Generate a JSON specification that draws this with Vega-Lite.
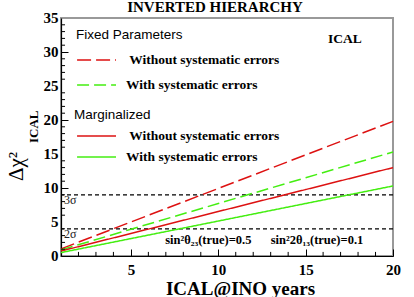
{
  "$schema": "https://vega.github.io/schema/vega-lite/v6.json",
  "width": 332,
  "height": 238,
  "autosize": {"type": "none"},
  "padding": {"left": 61, "top": 18, "right": 21, "bottom": 41},
  "background": "white",
  "config": {
    "view": {"stroke": "#999999", "strokeWidth": 2},
    "axis": {"labelOverlap": false, "labelFlush": false, "grid": false,
      "tickSize": -7, "tickColor": "black", "tickWidth": 1, "domainColor": "black", "domainWidth": 1.2,
      "labelFont": "Liberation Serif", "labelFontWeight": "bold", "labelFontSize": 15, "labelColor": "black"}
  },
  "title": {"text": "INVERTED HIERARCHY", "font": "Liberation Serif", "fontSize": 15, "fontWeight": "bold", "color": "black", "anchor": "middle", "frame": "group", "dx": -12, "offset": -4},
  "layer": [
    {
      "data": {"values": [{"y": 9}, {"y": 4}]},
      "mark": {"type": "rule", "color": "black", "strokeDash": [4, 3], "strokeWidth": 1.2},
      "encoding": {
        "y": {"field": "y", "type": "quantitative", "scale": {"domain": [0, 35], "nice": false, "zero": false},
          "axis": {
            "values": [0, 5, 10, 15, 20, 25, 30, 35],
            "labels": false,
            "title": "Δχ²", "titleFont": "Liberation Serif", "titleFontSize": 21, "titleFontWeight": "normal", "titleColor": "black",
            "titleAngle": 270, "titleX": -39, "titleY": 148, "titleAlign": "center", "titleBaseline": "alphabetic"
          }
        }
      }
    },
    {
      "data": {"values": [
        {"series": "fixed_nosys", "years": 1, "dchi2": 1.05},
        {"series": "fixed_nosys", "years": 5, "dchi2": 5.0},
        {"series": "fixed_nosys", "years": 10, "dchi2": 9.93},
        {"series": "fixed_nosys", "years": 15, "dchi2": 14.87},
        {"series": "fixed_nosys", "years": 20, "dchi2": 19.8},
        {"series": "fixed_sys", "years": 1, "dchi2": 0.9},
        {"series": "fixed_sys", "years": 5, "dchi2": 3.93},
        {"series": "fixed_sys", "years": 10, "dchi2": 7.72},
        {"series": "fixed_sys", "years": 15, "dchi2": 11.51},
        {"series": "fixed_sys", "years": 20, "dchi2": 15.3},
        {"series": "marg_nosys", "years": 1, "dchi2": 0.73},
        {"series": "marg_nosys", "years": 5, "dchi2": 3.31},
        {"series": "marg_nosys", "years": 10, "dchi2": 6.54},
        {"series": "marg_nosys", "years": 15, "dchi2": 9.77},
        {"series": "marg_nosys", "years": 20, "dchi2": 13.0},
        {"series": "marg_sys", "years": 1, "dchi2": 0.5},
        {"series": "marg_sys", "years": 5, "dchi2": 2.56},
        {"series": "marg_sys", "years": 10, "dchi2": 5.14},
        {"series": "marg_sys", "years": 15, "dchi2": 7.72},
        {"series": "marg_sys", "years": 20, "dchi2": 10.3}
      ]},
      "mark": {"type": "line", "strokeWidth": 1.5},
      "encoding": {
        "x": {"field": "years", "type": "quantitative", "scale": {"domain": [1, 20], "nice": false, "zero": false},
          "axis": {
            "values": [5, 10, 15, 20],
            "labelPadding": 13,
            "title": "ICAL@INO years", "titleFont": "Liberation Serif", "titleFontSize": 19, "titleFontWeight": "bold", "titleColor": "black",
            "titleX": 179, "titleAlign": "center", "titlePadding": 2
          }
        },
        "y": {"field": "dchi2", "type": "quantitative", "scale": {"domain": [0, 35], "nice": false, "zero": false}},
        "color": {"field": "series", "type": "nominal", "legend": null,
          "scale": {"domain": ["fixed_nosys", "fixed_sys", "marg_nosys", "marg_sys"], "range": ["#dd1111", "#44ee11", "#dd1111", "#44ee11"]}},
        "strokeDash": {"field": "series", "type": "nominal", "legend": null,
          "scale": {"domain": ["fixed_nosys", "fixed_sys", "marg_nosys", "marg_sys"], "range": [[14, 5], [12, 5], [1, 0], [1, 0]]}}
      }
    },
    {
      "data": {"values": [
        {"series": "fixed_nosys", "x": 1.92, "y": 28.82},
        {"series": "fixed_nosys", "x": 4.15, "y": 28.82},
        {"series": "fixed_sys", "x": 1.92, "y": 25.15},
        {"series": "fixed_sys", "x": 4.15, "y": 25.15},
        {"series": "marg_nosys", "x": 1.92, "y": 17.65},
        {"series": "marg_nosys", "x": 4.15, "y": 17.65},
        {"series": "marg_sys", "x": 1.92, "y": 14.56},
        {"series": "marg_sys", "x": 4.15, "y": 14.56}
      ]},
      "mark": {"type": "line", "strokeWidth": 1.5},
      "encoding": {
        "x": {"field": "x", "type": "quantitative", "scale": {"domain": [1, 20], "nice": false, "zero": false}},
        "y": {"field": "y", "type": "quantitative", "scale": {"domain": [0, 35], "nice": false, "zero": false}},
        "color": {"field": "series", "type": "nominal", "legend": null},
        "strokeDash": {"field": "series", "type": "nominal", "legend": null}
      }
    },
    {
      "data": {"values": [
        {"xt": 2}, {"xt": 3}, {"xt": 4}, {"xt": 6}, {"xt": 7}, {"xt": 8}, {"xt": 9},
        {"xt": 11}, {"xt": 12}, {"xt": 13}, {"xt": 14}, {"xt": 16}, {"xt": 17}, {"xt": 18}, {"xt": 19}
      ]},
      "mark": {"type": "rule", "color": "black", "strokeWidth": 1},
      "encoding": {
        "x": {"field": "xt", "type": "quantitative", "scale": {"domain": [1, 20], "nice": false, "zero": false}},
        "y": {"datum": 0, "type": "quantitative", "scale": {"domain": [0, 35], "nice": false, "zero": false}},
        "y2": {"datum": 0.6}
      }
    },
    {
      "data": {"values": [
        {"yt": 1}, {"yt": 2}, {"yt": 3}, {"yt": 4}, {"yt": 6}, {"yt": 7}, {"yt": 8}, {"yt": 9},
        {"yt": 11}, {"yt": 12}, {"yt": 13}, {"yt": 14}, {"yt": 16}, {"yt": 17}, {"yt": 18}, {"yt": 19},
        {"yt": 21}, {"yt": 22}, {"yt": 23}, {"yt": 24}, {"yt": 26}, {"yt": 27}, {"yt": 28}, {"yt": 29},
        {"yt": 31}, {"yt": 32}, {"yt": 33}, {"yt": 34}
      ]},
      "mark": {"type": "rule", "color": "black", "strokeWidth": 1},
      "encoding": {
        "y": {"field": "yt", "type": "quantitative", "scale": {"domain": [0, 35], "nice": false, "zero": false}},
        "x": {"datum": 1, "type": "quantitative", "scale": {"domain": [1, 20], "nice": false, "zero": false}},
        "x2": {"datum": 1.23}
      }
    },
    {
      "data": {"values": [
        {"tick": 0}, {"tick": 5}, {"tick": 10}, {"tick": 15}, {"tick": 20}, {"tick": 25}, {"tick": 30}, {"tick": 35}
      ]},
      "mark": {"type": "text", "font": "Liberation Serif", "fontSize": 15, "fontWeight": "bold", "align": "right", "baseline": "middle", "dx": -2.5, "color": "black"},
      "encoding": {
        "y": {"field": "tick", "type": "quantitative", "scale": {"domain": [0, 35], "nice": false, "zero": false}},
        "x": {"datum": 1, "type": "quantitative", "scale": {"domain": [1, 20], "nice": false, "zero": false}},
        "text": {"field": "tick", "type": "quantitative"}
      }
    },
    {
      "data": {"values": [
        {"x": 1.86, "y": 32.5, "text": "Fixed Parameters"},
        {"x": 1.74, "y": 20.7, "text": "Marginalized"}
      ]},
      "mark": {"type": "text", "font": "Liberation Sans", "fontSize": 13.5, "align": "left", "baseline": "middle", "color": "black"},
      "encoding": {
        "x": {"field": "x", "type": "quantitative", "scale": {"domain": [1, 20], "nice": false, "zero": false}},
        "y": {"field": "y", "type": "quantitative", "scale": {"domain": [0, 35], "nice": false, "zero": false}},
        "text": {"field": "text"}
      }
    },
    {
      "data": {"values": [
        {"x": 4.9, "y": 28.82, "text": "Without systematic errors"},
        {"x": 4.72, "y": 25.15, "text": "With systematic errors"},
        {"x": 4.9, "y": 17.65, "text": "Without systematic errors"},
        {"x": 4.72, "y": 14.56, "text": "With systematic errors"},
        {"x": 16.28, "y": 31.9, "text": "ICAL"}
      ]},
      "mark": {"type": "text", "font": "Liberation Serif", "fontSize": 13.5, "fontWeight": "bold", "align": "left", "baseline": "middle", "color": "black"},
      "encoding": {
        "x": {"field": "x", "type": "quantitative", "scale": {"domain": [1, 20], "nice": false, "zero": false}},
        "y": {"field": "y", "type": "quantitative", "scale": {"domain": [0, 35], "nice": false, "zero": false}},
        "text": {"field": "text"}
      }
    },
    {
      "data": {"values": [
        {"x": 6.96, "y": 2.35, "text": "sin²θ₂₃(true)=0.5"},
        {"x": 13.0, "y": 2.35, "text": "sin²2θ₁₃(true)=0.1"}
      ]},
      "mark": {"type": "text", "font": "Liberation Serif", "fontSize": 12.5, "fontWeight": "bold", "align": "left", "baseline": "middle", "color": "black"},
      "encoding": {
        "x": {"field": "x", "type": "quantitative", "scale": {"domain": [1, 20], "nice": false, "zero": false}},
        "y": {"field": "y", "type": "quantitative", "scale": {"domain": [0, 35], "nice": false, "zero": false}},
        "text": {"field": "text"}
      }
    },
    {
      "data": {"values": [
        {"x": 1.17, "y": 8.3, "text": "3σ"},
        {"x": 1.17, "y": 3.3, "text": "2σ"}
      ]},
      "mark": {"type": "text", "font": "Liberation Serif", "fontSize": 12, "align": "left", "baseline": "middle", "color": "#222222"},
      "encoding": {
        "x": {"field": "x", "type": "quantitative", "scale": {"domain": [1, 20], "nice": false, "zero": false}},
        "y": {"field": "y", "type": "quantitative", "scale": {"domain": [0, 35], "nice": false, "zero": false}},
        "text": {"field": "text"}
      }
    },
    {
      "data": {"values": [{"x": -0.316, "y": 19.0, "text": "ICAL"}]},
      "mark": {"type": "text", "font": "Liberation Serif", "fontSize": 13, "fontWeight": "bold", "align": "center", "baseline": "alphabetic", "angle": 270, "color": "black"},
      "encoding": {
        "x": {"field": "x", "type": "quantitative", "scale": {"domain": [1, 20], "nice": false, "zero": false}},
        "y": {"field": "y", "type": "quantitative", "scale": {"domain": [0, 35], "nice": false, "zero": false}},
        "text": {"field": "text"}
      }
    }
  ]
}
